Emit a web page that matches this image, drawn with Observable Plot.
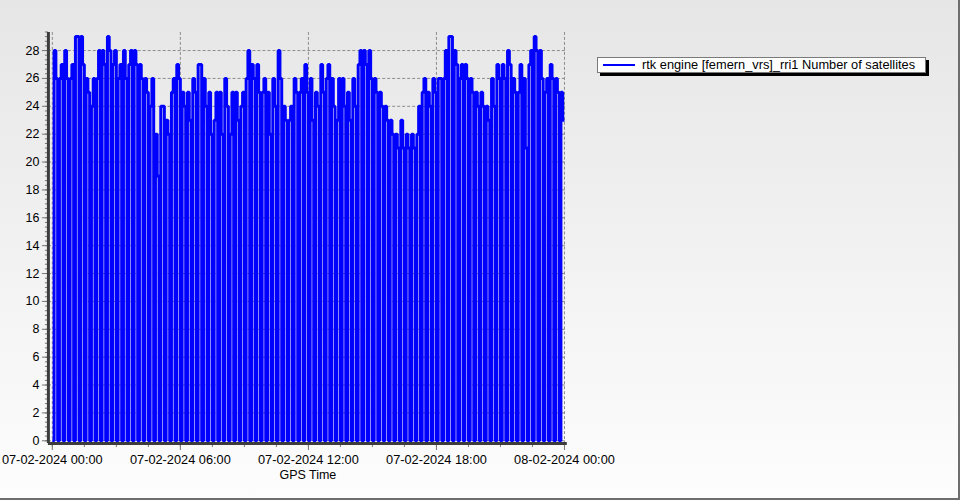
<!DOCTYPE html>
<html>
<head>
<meta charset="utf-8">
<script src="https://cdn.jsdelivr.net/npm/d3@7"></script>
<script src="https://cdn.jsdelivr.net/npm/@observablehq/plot@0.6"></script>
<style>
html, body { margin: 0; padding: 0; }
body { width: 960px; height: 500px; overflow: hidden; }
#wrap { position: relative; box-sizing: border-box; width: 960px; height: 500px;
  background: linear-gradient(#e6e6e6, #fdfdfd);
  border-right: 2px solid #6e6e6e; border-bottom: 2px solid #6e6e6e; }
#chart { position: absolute; left: 0; top: 0; }
#chart svg { overflow: visible; }
#legend { position: absolute; left: 597px; top: 57px; box-sizing: border-box; width: 329px; height: 16px;
  background: #fff; border: 1px solid #7a7a7a; box-shadow: 3px 3px 0 #000;
  font: 12.8px "Liberation Sans", Arial, sans-serif; color: #000; white-space: nowrap; }
#legend .sw { position: absolute; left: 5px; top: 6px; width: 32px; height: 2px; background: #0000ff; }
#legend .lb { position: absolute; left: 44px; top: 0px; line-height: 14px; }
</style>
</head>
<body>
<div id="wrap">
  <div id="chart"></div>
  <div id="legend"><span class="sw"></span><span class="lb"></span></div>
</div>
<script>
// ---- data ----
const seriesName = "rtk engine [femern_vrs]_rri1 Number of satellites";
const xLabel = "GPS Time";
const startTime = Date.UTC(2024, 1, 7, 0, 0);   // 07-02-2024 00:00
const slotMinutes = 15;     // receiver reports a 0 at the start of each 15-min slot
const riseMinutes = 5;      // value comes back after the zero
const stepMinutes = 10;     // second reading within the slot
// first and second satellite count within each 15-minute slot (96 slots)
const levelA = [28,26,28,26,29,29,26,24,26,28,29,27,26,28,27,28,27,26,24,22,24,23,25,27,
                25,25,26,27,26,25,23,25,26,22,25,24,26,27,27,25,25,26,28,24,23,26,25,27,
                26,25,27,26,26,23,26,25,26,27,28,28,26,25,24,23,22,23,22,22,22,25,25,26,
                26,26,29,28,26,27,26,25,25,24,26,27,27,28,26,25,26,27,29,28,25,27,26,25];
const levelB = [26,27,26,27,29,27,25,26,28,27,28,28,27,26,28,27,26,25,26,19,24,22,26,26,
                24,23,25,27,24,22,25,22,24,25,23,25,28,26,25,26,22,24,26,23,24,25,26,25,
                23,24,25,27,24,26,24,23,24,28,27,26,25,24,23,22,21,21,21,21,24,26,24,25,
                26,28,29,27,27,26,25,24,24,23,24,26,26,27,25,27,21,28,28,26,26,26,25,23];
const xTickHours = [0, 6, 12, 18, 24];
const xTickLabels = ["07-02-2024 00:00", "07-02-2024 06:00", "07-02-2024 12:00", "07-02-2024 18:00", "08-02-2024 00:00"];
const yTicks = [0, 2, 4, 6, 8, 10, 12, 14, 16, 18, 20, 22, 24, 26, 28];

// ---- build ----
const minute = 60000, hour = 3600000;
const points = [];
levelA.forEach((a, k) => {
  const t0 = startTime + k * slotMinutes * minute;
  points.push({t: new Date(t0), v: 0});
  points.push({t: new Date(t0 + riseMinutes * minute), v: a});
  points.push({t: new Date(t0 + stepMinutes * minute), v: levelB[k]});
});
points.push({t: new Date(startTime + levelA.length * slotMinutes * minute), v: levelB[levelB.length - 1]});

const xTicks = xTickHours.map(h => new Date(startTime + h * hour));
const labelOf = new Map(xTicks.map((d, i) => [+d, xTickLabels[i]]));
const xMinor = d3.range(0, 24.01, 1.5).map(h => new Date(startTime + h * hour));
const yMinor = d3.range(0, 89).map(i => i / 3);
const xDomain = [new Date(startTime - 11 * minute), new Date(startTime + 24 * hour + 8 * minute)];
const yDomain = [-0.2, 29.3];

const font = '"Liberation Sans", Arial, sans-serif';
const chart = Plot.plot({
  width: 960, height: 500,
  marginTop: 32, marginBottom: 56, marginLeft: 48, marginRight: 392,
  style: {background: "transparent", fontFamily: font, fontSize: "12.5px", color: "#000"},
  x: {type: "utc", domain: xDomain},
  y: {domain: yDomain},
  marks: [
    Plot.gridY(yTicks, {stroke: "#8c8c8c", strokeOpacity: 1, strokeDasharray: "3,2"}),
    Plot.gridX(xTicks, {stroke: "#8c8c8c", strokeOpacity: 1, strokeDasharray: "3,2"}),
    Plot.line(points, {x: "t", y: "v", curve: "step-after", stroke: "#0000ff", strokeWidth: 3,
      strokeLinejoin: "miter", strokeLinecap: "butt"}),
    Plot.axisY({ticks: yMinor, tickSize: 3, text: null, stroke: "#777", label: null}),
    Plot.axisY({ticks: yTicks, tickSize: 6, tickPadding: 3, stroke: "#777", label: null,
      fill: "#000", fontSize: 12.5}),
    Plot.axisX({ticks: xMinor, tickSize: 4, text: null, stroke: "#777", label: null}),
    Plot.axisX({ticks: xTicks, tickSize: 7, tickPadding: 4, stroke: "#777", label: null,
      tickFormat: d => labelOf.get(+d), fill: "#000", fontSize: 12.8}),
    Plot.ruleX([xDomain[0]], {stroke: "#3c3c3c", strokeWidth: 3}),
    Plot.ruleY([yDomain[0]], {stroke: "#3c3c3c", strokeWidth: 3}),
    Plot.text([xLabel], {frameAnchor: "bottom", dy: 31, lineAnchor: "middle", fill: "#000", fontSize: 12.5})
  ]
});
document.getElementById("chart").appendChild(chart);
document.querySelector("#legend .lb").textContent = seriesName;
</script>
</body>
</html>
